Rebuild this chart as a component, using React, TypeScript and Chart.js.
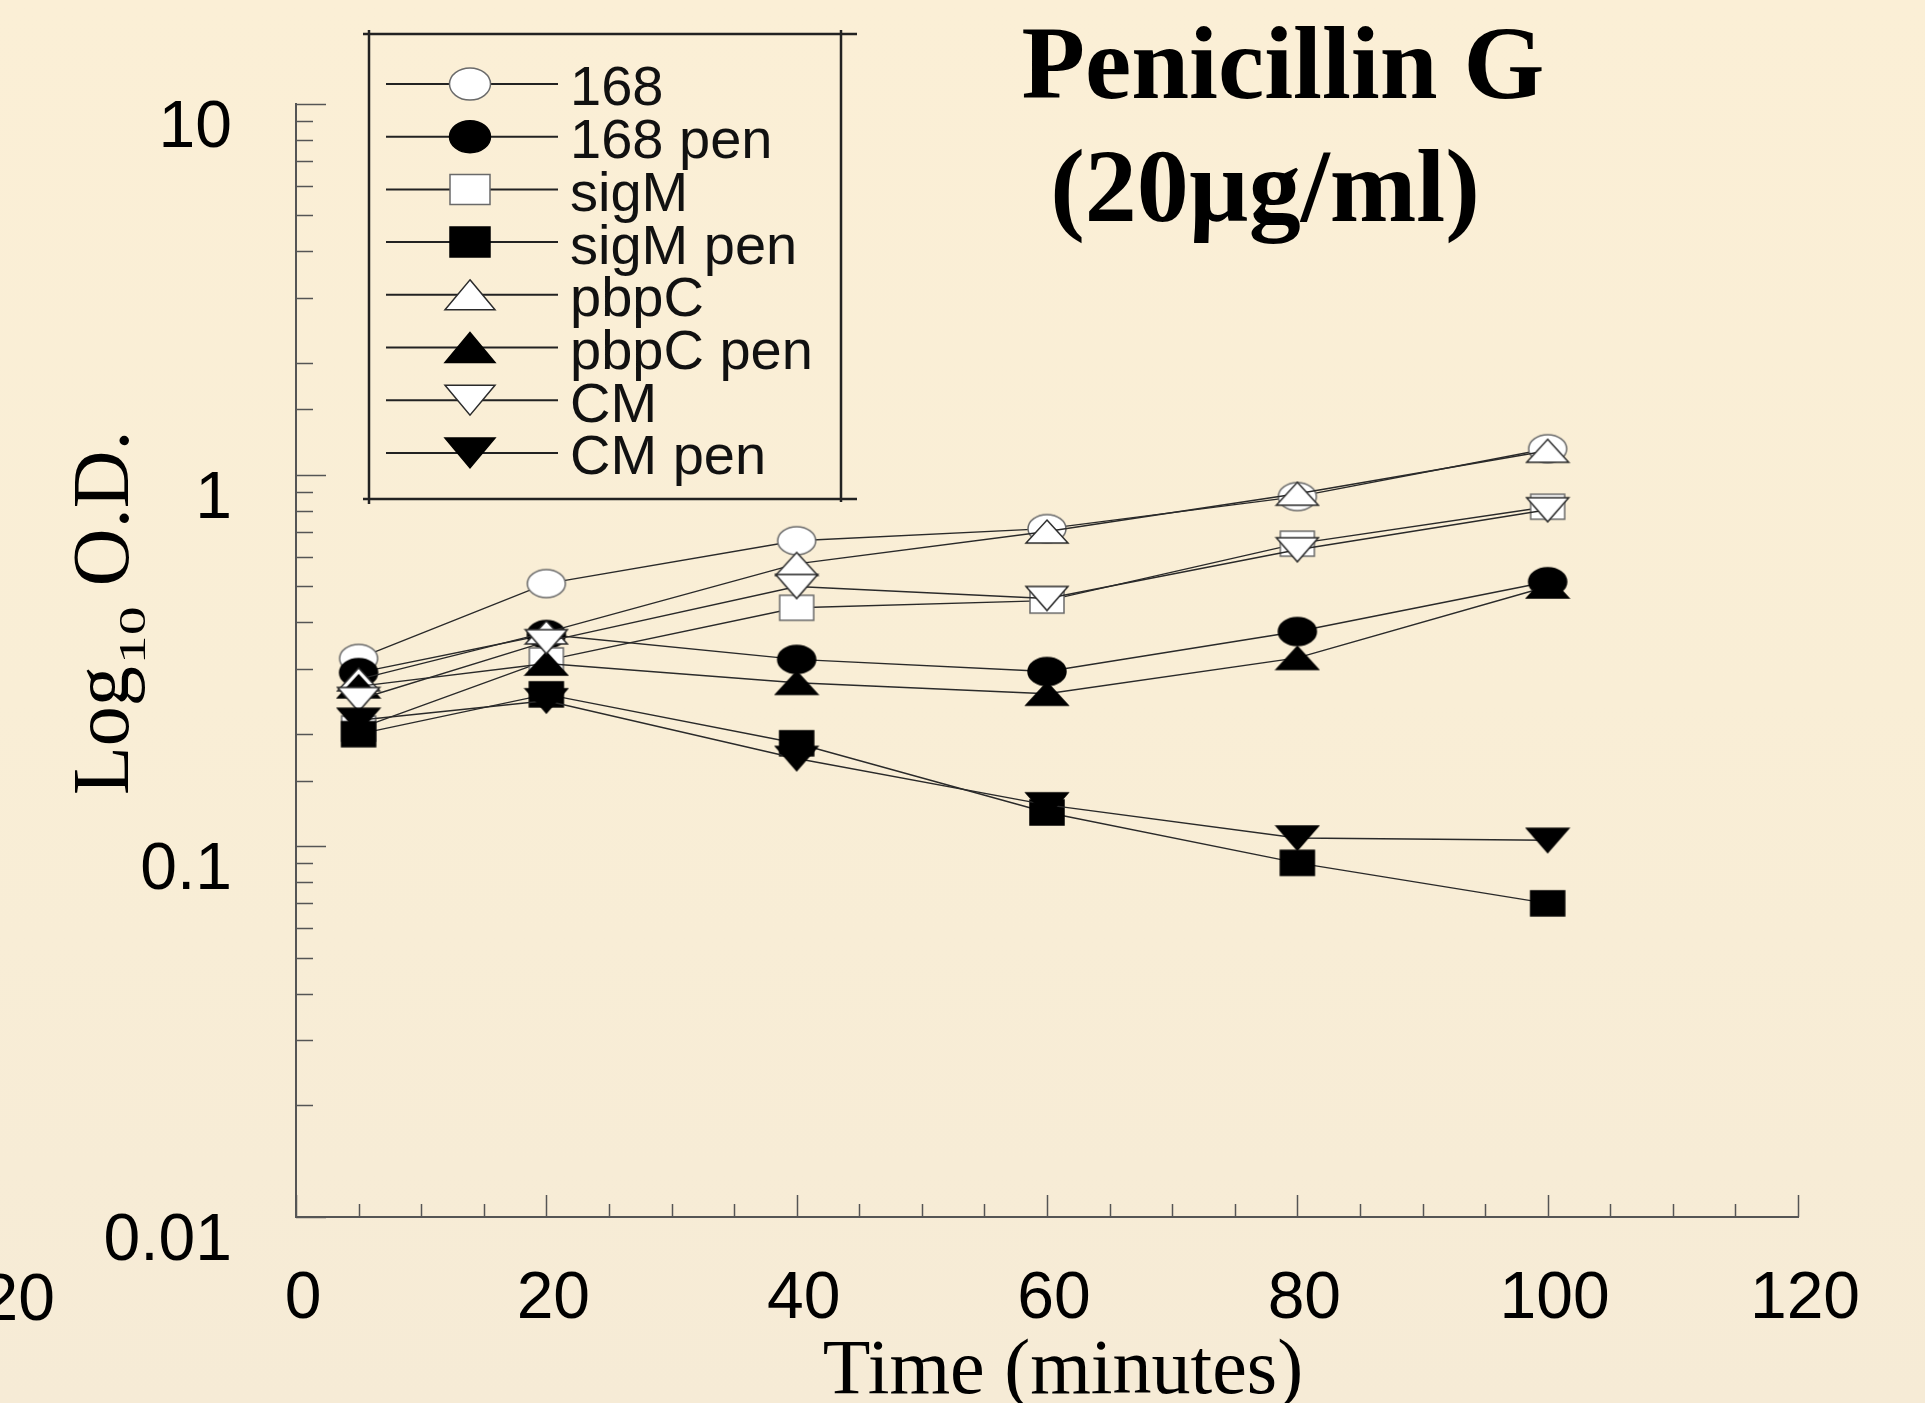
import React, { useEffect, useRef } from 'react';
import { Chart, registerables } from 'chart.js';

Chart.register(...registerables);

// ---- data ----
const times = [5, 20, 40, 60, 80, 100];
const seriesNames = ['168', '168 pen', 'sigM', 'sigM pen', 'pbpC', 'pbpC pen', 'CM', 'CM pen'];
const s168 = [0.32, 0.509, 0.664, 0.716, 0.873, 1.175];
const s168pen = [0.293, 0.371, 0.318, 0.295, 0.378, 0.515];
const sSigM = [0.207, 0.316, 0.438, 0.458, 0.652, 0.82];
const sSigMpen = [0.2, 0.256, 0.189, 0.123, 0.09, 0.07];
const sPbpC = [0.281, 0.376, 0.575, 0.703, 0.889, 1.16];
const sPbpCpen = [0.269, 0.31, 0.275, 0.257, 0.321, 0.5];
const sCM = [0.248, 0.355, 0.5, 0.464, 0.628, 0.805];
const sCMpen = [0.218, 0.246, 0.172, 0.129, 0.105, 0.1035];
const seriesValues = [s168, s168pen, sSigM, sSigMpen, sPbpC, sPbpCpen, sCM, sCMpen];

const xMin = 0;
const xMax = 120;
const yMin = 0.01;
const yMax = 10;
const yTickLabels = ['0.01', '0.1', '1', '10'];

const titleLine1 = 'Penicillin G';
const titleLine2 = '(20µg/ml)';
const xTitle = 'Time (minutes)';
const strayLabel = '20';

// ---- marker styles ----
type Kind = 'circle' | 'square' | 'up' | 'down';
const markerKinds: Kind[] = ['circle', 'circle', 'square', 'square', 'up', 'up', 'down', 'down'];
const markerFilled = [false, true, false, true, false, true, false, true];

const chartSize: Record<Kind, [number, number]> = {
  circle: [38, 28],
  square: [34, 25],
  up: [42, 23],
  down: [42, 24],
};
const legendSize: Record<Kind, [number, number]> = {
  circle: [41, 32],
  square: [40, 30],
  up: [50, 30],
  down: [50, 30],
};

function drawMarker(ctx: CanvasRenderingContext2D, kind: Kind, filled: boolean, cx: number, cy: number, w: number, h: number) {
  ctx.save();
  ctx.beginPath();
  if (kind === 'circle') {
    ctx.ellipse(cx, cy, w / 2, h / 2, 0, 0, Math.PI * 2);
  } else if (kind === 'square') {
    ctx.rect(cx - w / 2, cy - h / 2, w, h);
  } else if (kind === 'up') {
    ctx.moveTo(cx, cy - h / 2);
    ctx.lineTo(cx + w / 2, cy + h / 2);
    ctx.lineTo(cx - w / 2, cy + h / 2);
    ctx.closePath();
  } else {
    ctx.moveTo(cx - w / 2, cy - h / 2);
    ctx.lineTo(cx + w / 2, cy - h / 2);
    ctx.lineTo(cx, cy + h / 2);
    ctx.closePath();
  }
  ctx.fillStyle = filled ? '#000' : '#fff';
  ctx.fill();
  ctx.lineWidth = 1.5;
  ctx.strokeStyle = filled ? '#000' : kind === 'circle' || kind === 'square' ? '#6a6a6a' : '#2a2a2a';
  ctx.stroke();
  ctx.restore();
}

function makeMarkerCanvas(kind: Kind, filled: boolean): HTMLCanvasElement {
  const [w, h] = chartSize[kind];
  const c = document.createElement('canvas');
  c.width = w + 4;
  c.height = h + 4;
  const ctx = c.getContext('2d')!;
  drawMarker(ctx, kind, filled, c.width / 2, c.height / 2, w, h);
  return c;
}

const isDecade = (v: number) => Math.abs(Math.log10(v) - Math.round(Math.log10(v))) < 1e-6;

const W = 1925;
const H = 1403;

const decorPlugin = {
  id: 'decor',
  beforeDatasetsDraw(chart: any) {
    const { ctx, chartArea, scales } = chart;
    const x = scales.x;
    const y = scales.y;
    ctx.save();
    ctx.strokeStyle = '#555';
    ctx.lineWidth = 1.5;
    y.ticks.forEach((t: any) => {
      const p = Math.round(y.getPixelForValue(t.value)) + 0.5;
      const len = isDecade(t.value) ? 30 : 17;
      ctx.beginPath();
      ctx.moveTo(chartArea.left, p);
      ctx.lineTo(chartArea.left + len, p);
      ctx.stroke();
    });
    x.ticks.forEach((t: any) => {
      const p = Math.round(x.getPixelForValue(t.value)) + 0.5;
      const len = t.value % 20 === 0 ? 22 : 13;
      ctx.beginPath();
      ctx.moveTo(p, chartArea.bottom);
      ctx.lineTo(p, chartArea.bottom - len);
      ctx.stroke();
    });
    ctx.restore();
  },
  afterDraw(chart: any) {
    const { ctx } = chart;
    ctx.save();
    // Title
    ctx.fillStyle = '#000';
    ctx.textBaseline = 'alphabetic';
    ctx.textAlign = 'center';
    ctx.font = 'bold 104px "Liberation Serif"';
    ctx.fillText(titleLine1, 1283, 98);
    ctx.fillText(titleLine2, 1265, 221);

    // x title
    ctx.font = '78px "Liberation Serif"';
    ctx.fillText(xTitle, 1063, 1393);

    // stray label at left edge
    ctx.font = '66px "Liberation Sans"';
    ctx.textAlign = 'right';
    ctx.textBaseline = 'middle';
    ctx.fillText(strayLabel, 55, 1302);

    // y title with subscript
    ctx.save();
    ctx.translate(128, 795);
    ctx.rotate(-Math.PI / 2);
    ctx.textAlign = 'left';
    ctx.textBaseline = 'alphabetic';
    ctx.font = '80px "Liberation Serif"';
    const p1 = 'Log';
    ctx.fillText(p1, 0, 0);
    let adv = ctx.measureText(p1).width + 2;
    ctx.save();
    ctx.translate(adv, 17);
    ctx.scale(1, 0.65);
    ctx.font = '58px "Liberation Serif"';
    ctx.fillText('10', 0, 0);
    adv += ctx.measureText('10').width;
    ctx.restore();
    ctx.font = '80px "Liberation Serif"';
    ctx.fillText(' O.D.', adv, 0);
    ctx.restore();

    // Legend box
    ctx.strokeStyle = '#222';
    ctx.lineWidth = 2.5;
    ctx.beginPath();
    ctx.moveTo(363, 34); ctx.lineTo(857, 34);
    ctx.moveTo(363, 499); ctx.lineTo(857, 499);
    ctx.moveTo(369, 30); ctx.lineTo(369, 504);
    ctx.moveTo(841, 30); ctx.lineTo(841, 502);
    ctx.stroke();

    // Legend entries
    const datasets = chart.data.datasets;
    datasets.forEach((ds: any, i: number) => {
      const yy = 84 + i * 52.7;
      ctx.strokeStyle = '#222';
      ctx.lineWidth = 2;
      ctx.beginPath();
      ctx.moveTo(386, yy);
      ctx.lineTo(558, yy);
      ctx.stroke();
      const kind = markerKinds[i];
      const [w, h] = legendSize[kind];
      drawMarker(ctx, kind, markerFilled[i], 470, yy, w, h);
      ctx.fillStyle = '#111';
      ctx.font = '56px "Liberation Sans"';
      ctx.textAlign = 'left';
      ctx.textBaseline = 'middle';
      ctx.fillText(ds.label, 570, yy + 6);
    });
    ctx.restore();
  },
};

export default function App() {
  const ref = useRef<HTMLCanvasElement | null>(null);

  useEffect(() => {
    if (!ref.current) return;
    const datasets = seriesNames.map((name, i) => ({
      label: name,
      data: times.map((t, j) => ({ x: t, y: seriesValues[i][j] })),
      borderColor: '#2a2a2a',
      borderWidth: 1.4,
      pointStyle: makeMarkerCanvas(markerKinds[i], markerFilled[i]),
      pointRadius: 10,
      fill: false,
      tension: 0,
      order: seriesNames.length - i,
    }));
    const chart = new Chart(ref.current, {
      type: 'line',
      data: { datasets },
      plugins: [decorPlugin],
      options: {
        animation: false,
        responsive: false,
        devicePixelRatio: 1,
        layout: { padding: { top: 102, right: 127, bottom: 0, left: 0 } },
        plugins: {
          legend: { display: false },
          tooltip: { enabled: false },
          title: { display: false },
        },
        scales: {
          x: {
            type: 'linear',
            min: xMin,
            max: xMax,
            afterFit: (s: any) => { s.height = H - 1217; },
            grid: { display: false, drawTicks: false },
            border: { display: true, color: '#555', width: 2 },
            ticks: {
              stepSize: 5,
              autoSkip: false,
              maxRotation: 0,
              padding: 43,
              labelOffset: 7,
              color: '#000',
              font: { family: '"Liberation Sans"', size: 66 },
              callback: (v: any) => (Number(v) % 20 === 0 ? String(v) : ''),
            },
          },
          y: {
            type: 'logarithmic',
            min: yMin,
            max: yMax,
            afterFit: (s: any) => { s.width = 296; },
            grid: { display: false, drawTicks: false },
            border: { display: true, color: '#555', width: 2 },
            ticks: {
              autoSkip: false,
              padding: 64,
              labelOffset: 25,
              color: '#000',
              font: { family: '"Liberation Sans"', size: 66 },
              callback: (v: any) => {
                const n = Number(v);
                if (!isDecade(n)) return '';
                const idx = Math.round(Math.log10(n)) + 2;
                return yTickLabels[idx] ?? '';
              },
            },
          },
        },
      } as any,
    });
    return () => chart.destroy();
  }, []);

  return (
    <div
      style={{
        position: 'absolute',
        left: 0,
        top: 0,
        width: W,
        height: H,
        overflow: 'hidden',
        background: 'linear-gradient(180deg, #fbefd6 0%, #f9eed6 50%, #f6ebd6 100%)',
      }}
    >
      <canvas ref={ref} width={W} height={H} style={{ display: 'block', width: W, height: H }} />
    </div>
  );
}
